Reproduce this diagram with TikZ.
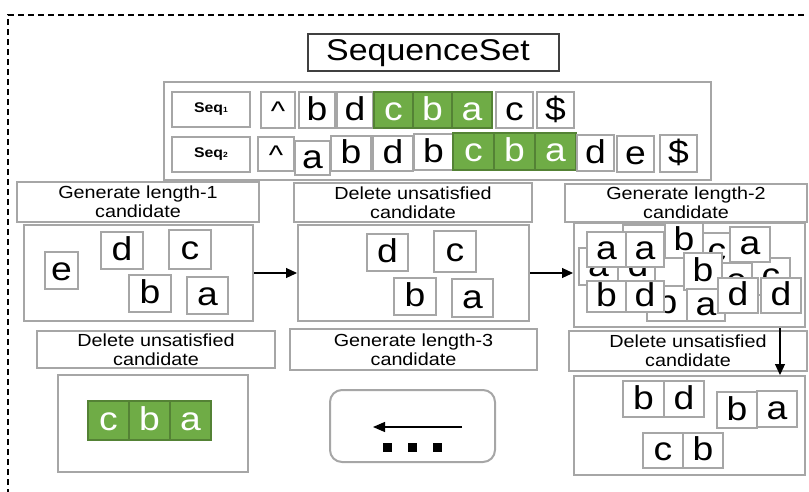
\documentclass[tikz,border=0pt]{standalone}
\usepackage{fontspec}
\setmainfont{Liberation Sans}[FakeStretch=1.13]
\usetikzlibrary{arrows.meta}

\definecolor{boxgray}{HTML}{A6A6A6}
\definecolor{framedark}{HTML}{404040}
\definecolor{cellgreen}{HTML}{6FAC46}
\definecolor{cellgreenline}{HTML}{548235}

\tikzset{
  gbox/.style={draw=boxgray, line width=2pt, fill=white, inner sep=0pt},
  cell/.style={gbox, line width=1.8pt, font=\fontsize{33}{33}\selectfont,
    text height=24pt, text depth=3.3pt},
  gcell/.style={cell, fill=cellgreen, draw=cellgreenline, text=white},
  header/.style={gbox, font=\fontsize{17.5}{19}\selectfont, align=center},
  seqlabel/.style={gbox, font=\bfseries\fontsize{14}{14}\selectfont},
  flow/.style={line width=1.2pt, -{Triangle[length=11pt,width=10pt]}},
  dotsq/.style={fill=black, minimum size=9pt, inner sep=0pt},
}

% \cellbox{style}{name}{x1}{y1}{x2}{y2}{text}: box given by its corners
\newcommand{\cellbox}[7]{%
  \node[#1, minimum width={#5pt-#3pt}, minimum height={#6pt-#4pt}]
    (#2) at ({(#3+#5)/2},{(#4+#6)/2}) {#7};}
% start-of-sequence marker, a little smaller than the letters
\newcommand{\startmark}{{\fontsize{27}{27}\selectfont\textasciicircum}}
\newcommand{\seqlab}[1]{Seq{\fontsize{7.5}{7.5}\selectfont #1}}

\begin{document}
\begin{tikzpicture}[x=1pt,y=-1pt]
\useasboundingbox (0,0) rectangle (809,491);

% outer dashed frame
\draw[line width=1.4pt, dash pattern=on 6pt off 4pt] (8,495) -- (8,15) -- (806,15);

% title
\cellbox{draw=framedark, line width=1.5pt, inner sep=0pt}{title}{308}{34}{559}{71}{}
\node[font=\fontsize{30}{30}\selectfont] (titletext) at (428,53) {SequenceSet};

% sequence container
\cellbox{gbox}{seqset}{164}{82}{711}{180}{}

% Seq1
\cellbox{seqlabel}{seqone}{172}{92}{250}{127}{\seqlab{1}}
\cellbox{cell}{s1a}{261}{92}{295}{128}{\startmark}
\cellbox{cell}{s1b}{299}{92}{335}{128}{b}
\cellbox{cell}{s1c}{337}{92}{373}{128}{d}
\cellbox{gcell}{s1d}{374}{92}{413}{128}{c}
\cellbox{gcell}{s1e}{413}{92}{452}{128}{b}
\cellbox{gcell}{s1f}{452}{92}{492}{128}{a}
\cellbox{cell}{s1g}{496}{92}{533}{128}{c}
\cellbox{cell}{s1h}{537}{92}{574}{128}{\$}

% Seq2
\cellbox{seqlabel}{seqtwo}{172}{137}{250}{172}{\seqlab{2}}
\cellbox{cell}{s2a}{258}{137}{294}{171}{\startmark}
\cellbox{cell}{s2b}{295}{141}{330}{175}{a}
\cellbox{cell}{s2c}{331}{136}{371}{171}{b}
\cellbox{cell}{s2d}{373}{136}{413}{171}{d}
\cellbox{cell}{s2e}{414}{134}{453}{170}{b}
\cellbox{gcell}{s2f}{453}{133}{494}{170}{c}
\cellbox{gcell}{s2g}{494}{133}{535}{170}{b}
\cellbox{gcell}{s2h}{535}{133}{576}{170}{a}
\cellbox{cell}{s2i}{577}{135}{614}{171}{d}
\cellbox{cell}{s2j}{617}{136}{654}{172}{e}
\cellbox{cell}{s2k}{660}{135}{697}{172}{\$}

% step headers
\cellbox{header}{h1}{17}{182}{259}{222}{Generate length-1\\candidate}
\cellbox{header}{h2}{294}{183}{532}{222}{Delete unsatisfied\\candidate}
\cellbox{header}{h3}{565}{184}{807}{222}{Generate length-2\\candidate}
\cellbox{header}{h4}{37}{331}{275}{368}{Delete unsatisfied\\candidate}
\cellbox{header}{h5}{290}{329}{537}{370}{Generate length-3\\candidate}
\cellbox{header}{h6}{569}{331}{807}{371}{Delete unsatisfied\\candidate}

% length-1 candidates
\cellbox{gbox}{c1}{24}{225}{253}{321}{}
\cellbox{cell}{c1e}{45}{252}{78}{289}{e}
\cellbox{cell}{c1d}{101}{232}{143}{269}{d}
\cellbox{cell}{c1c}{169}{230}{211}{269}{c}
\cellbox{cell}{c1b}{129}{275}{171}{312}{b}
\cellbox{cell}{c1a}{187}{277}{228}{314}{a}

% after deletion
\cellbox{gbox}{c2}{298}{225}{529}{321}{}
\cellbox{cell}{c2d}{367}{234}{408}{271}{d}
\cellbox{cell}{c2c}{434}{231}{476}{272}{c}
\cellbox{cell}{c2b}{394}{278}{436}{315}{b}
\cellbox{cell}{c2a}{452}{279}{493}{317}{a}

% length-2 candidates, stacked
\cellbox{gbox}{c3}{574}{223}{805}{327}{}
\cellbox{cell}{k1}{579}{248}{618}{285}{a}
\cellbox{cell}{k2}{618}{248}{658}{285}{d}
\cellbox{cell}{k3}{623}{225}{665}{258}{}
\cellbox{cell}{k4}{698}{233}{736}{270}{c}
\cellbox{cell}{k5}{718}{263}{755}{300}{e}
\cellbox{cell}{k6}{752}{258}{790}{295}{c}
\cellbox{cell}{k7}{655}{250}{690}{287}{}
\cellbox{cell}{k8}{647}{286}{687}{321}{b}
\cellbox{cell}{f1}{587}{232}{626}{267}{a}
\cellbox{cell}{f2}{626}{232}{664}{267}{a}
\cellbox{cell}{f3}{665}{223}{703}{258}{b}
\cellbox{cell}{f4}{730}{227}{770}{262}{a}
\cellbox{cell}{f5}{684}{253}{722}{290}{b}
\cellbox{cell}{f6}{587}{281}{626}{312}{b}
\cellbox{cell}{f7}{626}{281}{664}{312}{d}
\cellbox{cell}{f8}{687}{289}{725}{321}{a}
\cellbox{cell}{f9}{718}{278}{758}{313}{d}
\cellbox{cell}{f10}{761}{278}{801}{313}{d}

% length-2 survivors
\cellbox{gbox}{c6}{574}{376}{805}{475}{}
\cellbox{cell}{p1}{623}{381}{664}{417}{b}
\cellbox{cell}{p2}{664}{381}{704}{417}{d}
\cellbox{cell}{p3}{717}{392}{757}{428}{b}
\cellbox{cell}{p4}{757}{391}{797}{427}{a}
\cellbox{cell}{p5}{643}{433}{683}{468}{c}
\cellbox{cell}{p6}{683}{433}{723}{468}{b}

% length-3 generation (in progress)
\cellbox{gbox, rounded corners=12pt}{c5}{330}{390}{495}{462}{}
\coordinate (backfrom) at (462,427);
\coordinate (backto) at (373,427);
\draw[flow, -{Triangle[length=12pt,width=10pt]}] (backfrom) -- (backto);
\node[dotsq] (dot1) at (387,447) {};
\node[dotsq] (dot2) at (412,447) {};
\node[dotsq] (dot3) at (437,447) {};

% final result
\cellbox{gbox}{c4}{58}{375}{248}{472}{}
\cellbox{gcell}{r1}{88}{401}{129}{440}{c}
\cellbox{gcell}{r2}{129}{401}{170}{440}{b}
\cellbox{gcell}{r3}{170}{401}{211}{440}{a}

% flow between steps
\draw[flow] (c1.east) -- (c2.west);
\draw[flow] (c2.east) -- (c2.east -| c3.west);
\draw[flow] ([xshift=-26pt]c3.south east) -- ([xshift=-26pt]c6.north east);
\end{tikzpicture}
\end{document}
